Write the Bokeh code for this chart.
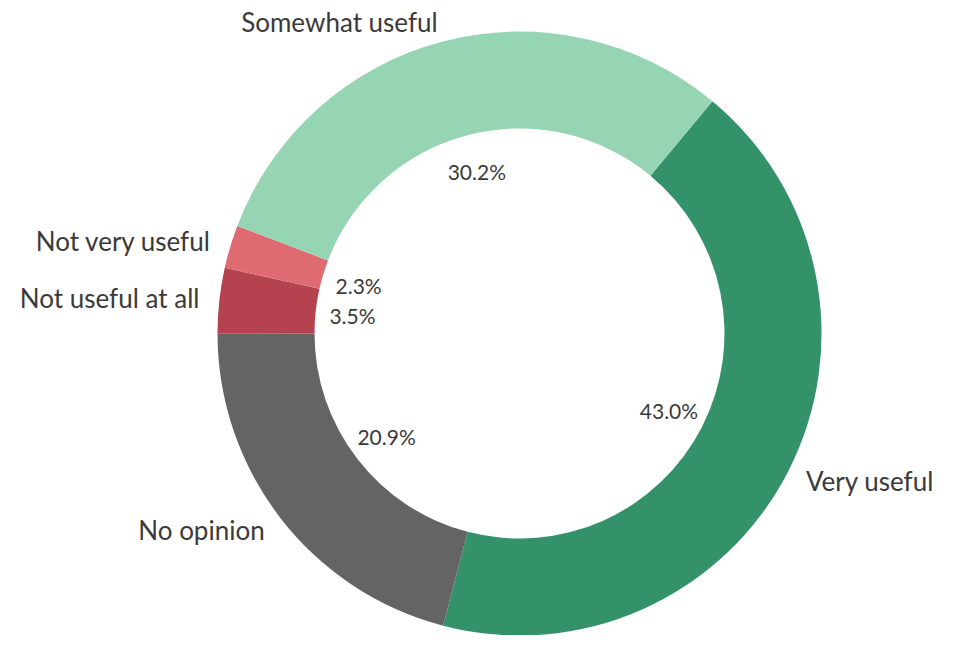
import math
from bokeh.plotting import figure
from bokeh.models import Range1d, ColumnDataSource
from bokeh.core.properties import value
from bokeh.embed import file_html
from bokeh.resources import INLINE

# Data (clockwise order starting at ~39.7 deg clockwise from 12 o'clock)
categories = ["Very useful", "No opinion", "Not useful at all", "Not very useful", "Somewhat useful"]
percents = [43.0, 20.9, 3.5, 2.3, 30.2]
colors = ["#34926b", "#646464", "#b4434f", "#de6a72", "#96d5b3"]

W, H = 938, 635
cx, cy = 519, H - 333
R_OUT, R_IN = 302, 205
R_PCT, R_LBL = 168, 322
start_deg = 39.7  # clockwise from top

p = figure(width=W, height=H, output_backend="svg", toolbar_location=None,
           x_range=Range1d(0, W), y_range=Range1d(0, H), min_border=0)
p.axis.visible = False
p.grid.visible = False
p.outline_line_color = None
p.background_fill_color = "white"

total = sum(percents)
starts, ends, mids = [], [], []
acc = start_deg
for v in percents:
    d = v / total * 360.0
    starts.append(acc)
    ends.append(acc + d)
    mids.append(acc + d / 2)
    acc += d

def to_math(deg_cw):
    return math.radians(90.0 - deg_cw)

src = ColumnDataSource(dict(
    start=[to_math(s) for s in starts],
    end=[to_math(e) for e in ends],
    color=colors,
))
p.annular_wedge(x=cx, y=cy, inner_radius=R_IN, outer_radius=R_OUT,
                start_angle="start", end_angle="end", direction="clock",
                fill_color="color", line_color=None, source=src)

# percent labels inside the hole
px = [cx + R_PCT * math.sin(math.radians(m)) for m in mids]
py = [cy + R_PCT * math.cos(math.radians(m)) for m in mids]
ptxt = [f"{v:.1f}%" for v in percents]
p.text(x=px, y=py, text=ptxt, text_align="center", text_baseline="middle",
       text_font=value("Lato"), text_font_size="21px", text_color="#3a3a3a")

# outside category labels
lx = [cx + R_LBL * math.sin(math.radians(m)) for m in mids]
ly = [cy + R_LBL * math.cos(math.radians(m)) for m in mids]
align = ["left" if x > cx else "right" for x in lx]
lsrc = ColumnDataSource(dict(x=lx, y=ly, text=categories, align=align))
p.text(x="x", y="y", text="text", text_align="align", text_baseline="middle",
       text_font=value("Lato"), text_font_size="26px", text_color="#3a3a3a", source=lsrc)

open("out.html", "w").write(file_html(p, INLINE))
